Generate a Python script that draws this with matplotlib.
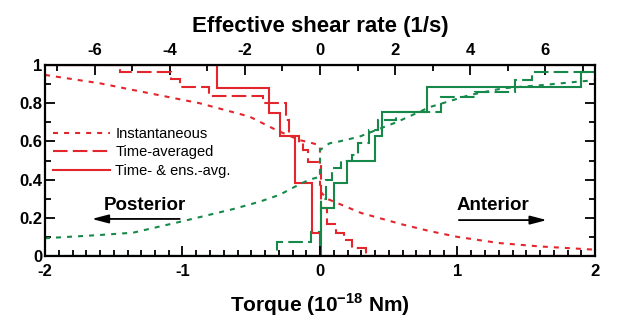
import matplotlib
matplotlib.use("Agg")
import matplotlib.pyplot as plt
from matplotlib.lines import Line2D
import numpy as np

plt.rcParams['font.family'] = ['Liberation Sans', 'DejaVu Sans']
plt.rcParams['mathtext.fontset'] = 'custom'
plt.rcParams['mathtext.rm'] = 'Liberation Sans:bold'
plt.rcParams['mathtext.bf'] = 'Liberation Sans:bold'

RED = '#e3262c'
GREEN = '#16894a'

# torque -> effective shear rate
SHEAR_PER_TORQUE = 3.66

# instantaneous (dotted) curves
inst_post_x = [-2, -1.6, -1.24, -0.876, -0.513, -0.32, -0.15, -0.076, -0.028, 0, 0,
               0.05, 0.1, 0.2, 0.3, 0.45, 0.6, 0.8, 1.0, 1.3, 1.6, 2.0]
inst_post_y = [0.948, 0.904, 0.852, 0.80, 0.73, 0.66, 0.607, 0.595, 0.585, 0.575, 0.34,
               0.30, 0.285, 0.255, 0.225, 0.195, 0.165, 0.13, 0.10, 0.068, 0.05, 0.033]
inst_ant_x = [-2, -1.6, -1.36, -1.0, -0.635, -0.44, -0.295, -0.15, -0.076, 0, 0,
              0.069, 0.142, 0.288, 0.41, 0.555, 0.8, 1.09, 1.33, 1.62, 1.91, 2.0]
inst_ant_y = [0.093, 0.11, 0.122, 0.182, 0.245, 0.284, 0.32, 0.375, 0.40, 0.415, 0.555,
              0.59, 0.60, 0.625, 0.66, 0.70, 0.78, 0.843, 0.878, 0.895, 0.915, 0.92]

# time-averaged (dashed) steps
tavg_post_edges = [-2, -1.455, -1.084, -1.015, -0.805, -0.417, -0.25, -0.227, -0.15,
                   -0.127, -0.089, 0.008, 0.05, 0.113, 0.171, 0.23, 0.336, 2]
tavg_post_vals = [1, 0.965, 0.927, 0.883, 0.84, 0.80, 0.71, 0.63, 0.59, 0.555, 0.49,
                  0.25, 0.165, 0.12, 0.084, 0.04, 0]
tavg_ant_edges = [-2, -0.312, -0.064, 0.01, 0.045, 0.088, 0.155, 0.23, 0.275, 0.36,
                  0.425, 0.555, 0.88, 1.125, 1.415, 1.54, 2]
tavg_ant_vals = [0, 0.075, 0.125, 0.30, 0.40, 0.46, 0.50, 0.53, 0.59, 0.66, 0.71,
                 0.755, 0.835, 0.86, 0.92, 0.965]

# time- and ensemble-averaged (solid) steps
ens_post_edges = [-2, -0.75, -0.373, -0.29, -0.183, -0.06, 0.0, 2]
ens_post_vals = [1, 0.88, 0.75, 0.628, 0.38, 0.12, 0]
ens_ant_edges = [-2, 0.004, 0.105, 0.2, 0.397, 0.45, 0.775, 1.90, 2]
ens_ant_vals = [0, 0.25, 0.38, 0.50, 0.63, 0.755, 0.883, 0.965]

dot = (2.4, 2.9)
dash = (7, 2.5)
lw = 1.5

fig = plt.figure(figsize=(6.17, 3.27), dpi=100)
ax = fig.add_axes([45/617, 1-256/327, 550/617, 191/327])

ax.plot(inst_post_x, inst_post_y, color=RED, lw=lw, dashes=dot)
ax.plot(inst_ant_x, inst_ant_y, color=GREEN, lw=lw, dashes=dot)
ax.stairs(tavg_post_vals, tavg_post_edges, baseline=None, color=RED, lw=lw, linestyle=(0, dash))
ax.stairs(tavg_ant_vals, tavg_ant_edges, baseline=None, color=GREEN, lw=lw, linestyle=(0, dash))
ax.stairs(ens_post_vals, ens_post_edges, baseline=None, color=RED, lw=lw)
ax.stairs(ens_ant_vals, ens_ant_edges, baseline=None, color=GREEN, lw=lw)

ax.set_xlim(-2, 2)
ax.set_ylim(0, 1)
ax.set_xticks(np.arange(-2, 2.01, 1))
ax.set_xticks(np.arange(-2, 2.01, 0.1), minor=True)
ax.set_yticks(np.arange(0, 1.01, 0.2))
ax.set_yticks(np.arange(0, 1.01, 0.1), minor=True)
ax.set_xticklabels(['-2', '-1', '0', '1', '2'])
ax.set_yticklabels(['0', '0.2', '0.4', '0.6', '0.8', '1'])
ax.tick_params(which='both', direction='in', right=True, top=False, width=1.3)
ax.tick_params(which='major', length=7)
ax.tick_params(which='minor', length=4)
ax.tick_params(axis='x', pad=6, labelsize=12)
ax.tick_params(axis='y', pad=2, labelsize=12)
for lab in ax.get_xticklabels() + ax.get_yticklabels():
    lab.set_fontweight('bold')
for s in ax.spines.values():
    s.set_linewidth(1.6)

ax.set_xlabel(r'Torque (10$^{-18}$ Nm)', fontsize=15, fontweight='bold', labelpad=9)

top = ax.secondary_xaxis('top', functions=(lambda t: t * SHEAR_PER_TORQUE,
                                           lambda s: s / SHEAR_PER_TORQUE))
top.set_xticks([-6, -4, -2, 0, 2, 4, 6])
top.set_xticks(np.arange(-7, 7.1, 1), minor=True)
top.set_xticklabels(['-6', '-4', '-2', '0', '2', '4', '6'])
top.tick_params(which='both', direction='in', width=1.3, labelsize=12, pad=5)
top.tick_params(which='major', length=7)
top.tick_params(which='minor', length=4)
for lab in top.get_xticklabels():
    lab.set_fontweight('bold')
top.set_xlabel('Effective shear rate (1/s)', fontsize=16, fontweight='bold', labelpad=8)

handles = [Line2D([], [], color=RED, lw=lw, dashes=dot),
           Line2D([], [], color=RED, lw=lw, dashes=dash),
           Line2D([], [], color=RED, lw=lw)]
ax.legend(handles, ['Instantaneous', 'Time-averaged', 'Time- & ens.-avg.'],
          loc='upper left', bbox_to_anchor=(0.015, 0.675), frameon=False,
          fontsize=10.5, handlelength=3.9, handletextpad=0.35, labelspacing=0.3,
          borderpad=0, borderaxespad=0)

arrow = dict(arrowstyle='-|>,head_length=1.0,head_width=0.26', color='black', lw=1.3)
ax.annotate('', xy=(-1.68, 0.194), xytext=(-1.0, 0.194), arrowprops=arrow)
ax.annotate('', xy=(1.67, 0.188), xytext=(0.99, 0.188), arrowprops=arrow)
ax.text(-1.275, 0.267, 'Posterior', fontsize=13.5, fontweight='bold', ha='center', va='center')
ax.text(1.256, 0.267, 'Anterior', fontsize=13.5, fontweight='bold', ha='center', va='center')

fig.savefig('out.png', dpi=100)
